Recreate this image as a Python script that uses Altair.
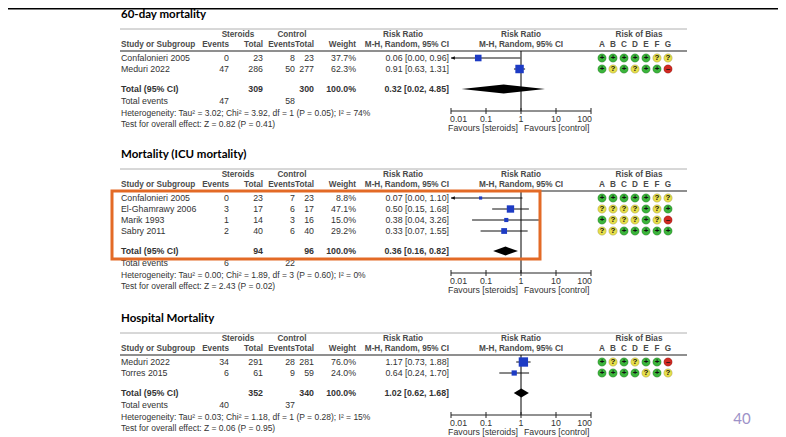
import altair as alt
import pandas as pd

# ---------------- data ----------------
TITLES = ["60-day mortality", "Mortality (ICU mortality)", "Hospital Mortality"]

S1_STUDY = ["Confalonieri 2005", "Meduri 2022"]
S1_EXP_EVENTS = [0, 47]
S1_EXP_TOTAL = [23, 286]
S1_CTL_EVENTS = [8, 50]
S1_CTL_TOTAL = [23, 277]
S1_WEIGHT = [37.7, 62.3]
S1_RR = [0.06, 0.91]
S1_LO = [0.00, 0.63]
S1_HI = [0.96, 1.31]
S1_ROB = ["+++++??", "+?+?++-"]
S1_POOLED = [0.32, 0.02, 4.85]
S1_TOTALS = [309, 300]
S1_EVENTS = [47, 58]
S1_HET = ["3.02", "3.92", "1", "0.05", "74"]
S1_TEST = ["0.82", "0.41"]

S2_STUDY = ["Confalonieri 2005", "El-Ghamrawy 2006", "Marik 1993", "Sabry 2011"]
S2_EXP_EVENTS = [0, 3, 1, 2]
S2_EXP_TOTAL = [23, 17, 14, 40]
S2_CTL_EVENTS = [7, 6, 3, 6]
S2_CTL_TOTAL = [23, 17, 16, 40]
S2_WEIGHT = [8.8, 47.1, 15.0, 29.2]
S2_RR = [0.07, 0.50, 0.38, 0.33]
S2_LO = [0.00, 0.15, 0.04, 0.07]
S2_HI = [1.10, 1.68, 3.26, 1.55]
S2_ROB = ["+++++??", "????+?+", "+???+?-", "??+++++"]
S2_POOLED = [0.36, 0.16, 0.82]
S2_TOTALS = [94, 96]
S2_EVENTS = [6, 22]
S2_HET = ["0.00", "1.89", "3", "0.60", "0"]
S2_TEST = ["2.43", "0.02"]

S3_STUDY = ["Meduri 2022", "Torres 2015"]
S3_EXP_EVENTS = [34, 6]
S3_EXP_TOTAL = [291, 61]
S3_CTL_EVENTS = [28, 9]
S3_CTL_TOTAL = [281, 59]
S3_WEIGHT = [76.0, 24.0]
S3_RR = [1.17, 0.64]
S3_LO = [0.73, 0.24]
S3_HI = [1.88, 1.70]
S3_ROB = ["+?+?++-", "++++?+?"]
S3_POOLED = [1.02, 0.62, 1.68]
S3_TOTALS = [352, 340]
S3_EVENTS = [40, 37]
S3_HET = ["0.03", "1.18", "1", "0.28", "15"]
S3_TEST = ["0.06", "0.95"]

AXIS_TICKS = [0.01, 0.1, 1, 10, 100]
AXIS_LABELS = ["0.01", "0.1", "1", "10", "100"]
ROB_DOMAINS = ["A", "B", "C", "D", "E", "F", "G"]
PAGE_NUMBER = "40"

# ---------------- layout (page pixels) ----------------
SEC_TOP = [29, 169, 333]
COL = dict(study=121, ee=229, et=263, ce=295, ct=314, w=356, rr=449,
           steroids=238, control=292, rrhead=403)
LINE_X = (120, 687)
HIGHLIGHT = dict(x=112, x2=540, sec=1)

XPIX = alt.Scale(domain=[8, 778], range=[0, 770])
YPIX = alt.Scale(domain=[8, 437], range=[0, 429])
XLOG = alt.Scale(type="log", domain=[0.01, 100], range=[443, 583])
XROB = alt.Scale(type="point", domain=ROB_DOMAINS, range=[594, 660], padding=0)

HEAD_C, BODY_C = "#4a4a4a", "#333333"
FS = 8.8
FSH = 8.2
FST = 11.5

sections = [
    dict(study=S1_STUDY, ee=S1_EXP_EVENTS, et=S1_EXP_TOTAL, ce=S1_CTL_EVENTS, ct=S1_CTL_TOTAL,
         w=S1_WEIGHT, rr=S1_RR, lo=S1_LO, hi=S1_HI, rob=S1_ROB, pooled=S1_POOLED,
         totals=S1_TOTALS, events=S1_EVENTS, het=S1_HET, test=S1_TEST),
    dict(study=S2_STUDY, ee=S2_EXP_EVENTS, et=S2_EXP_TOTAL, ce=S2_CTL_EVENTS, ct=S2_CTL_TOTAL,
         w=S2_WEIGHT, rr=S2_RR, lo=S2_LO, hi=S2_HI, rob=S2_ROB, pooled=S2_POOLED,
         totals=S2_TOTALS, events=S2_EVENTS, het=S2_HET, test=S2_TEST),
    dict(study=S3_STUDY, ee=S3_EXP_EVENTS, et=S3_EXP_TOTAL, ce=S3_CTL_EVENTS, ct=S3_CTL_TOTAL,
         w=S3_WEIGHT, rr=S3_RR, lo=S3_LO, hi=S3_HI, rob=S3_ROB, pooled=S3_POOLED,
         totals=S3_TOTALS, events=S3_EVENTS, het=S3_HET, test=S3_TEST),
]

texts, ftexts, rtexts, lines, cis, arrows, squares, diamonds = [], [], [], [], [], [], [], []
nulls, axes, ticks, circles = [], [], [], []
box = []


def T(x, y, s, align, bold=False, c=BODY_C, fs=FS):
    texts.append(dict(x=x, y=y, text=s, align=align, bold=bold, c=c, fs=fs))


def fmt_rr(r, l, h):
    return f"{r:.2f} [{l:.2f}, {h:.2f}]"


for si, sec in enumerate(sections):
    G = SEC_TOP[si]
    h1, h2, dark = G + 6, G + 16, G + 22
    n = len(sec["study"])
    rows = [G + 29 + 11 * i for i in range(n)]
    tot = rows[-1] + 20
    axis_y = tot + 22

    texts.append(dict(x=COL["study"], y=G - 14, text=TITLES[si], align="left", bold=True,
                      c="#000000", fs=FST, title=True))
    T(COL["steroids"], h1, "Steroids", "center", True, HEAD_C, FSH)
    T(COL["control"], h1, "Control", "center", True, HEAD_C, FSH)
    T(COL["rrhead"], h1, "Risk Ratio", "center", True, HEAD_C, FSH)
    T(COL["study"], h2, "Study or Subgroup", "left", True, HEAD_C, FSH)
    T(COL["ee"], h2, "Events", "right", True, HEAD_C, FSH)
    T(COL["et"], h2, "Total", "right", True, HEAD_C, FSH)
    T(COL["ce"], h2, "Events", "right", True, HEAD_C, FSH)
    T(COL["ct"], h2, "Total", "right", True, HEAD_C, FSH)
    T(COL["w"], h2, "Weight", "right", True, HEAD_C, FSH)
    T(COL["rr"], h2, "M-H, Random, 95% CI", "right", True, HEAD_C, FSH)

    ftexts.append(dict(rr=1, y=h1, text="Risk Ratio", align="center", bold=True, c=HEAD_C, fs=FSH))
    ftexts.append(dict(rr=1, y=h2, text="M-H, Random, 95% CI", align="center", bold=True, c=HEAD_C, fs=FSH))
    rtexts.append(dict(k="D", y=h1, text="Risk of Bias", bold=True, c=HEAD_C, fs=FSH, dx=4))
    for L in ROB_DOMAINS:
        rtexts.append(dict(k=L, y=h2, text=L, bold=True, c=HEAD_C, fs=FSH, dx=0))

    lines.append(dict(x=LINE_X[0], x2=LINE_X[1], y=G, c="#b0b0b0", sw=1))
    lines.append(dict(x=LINE_X[0], x2=LINE_X[1], y=dark, c="#6a6a6a", sw=1.3))

    for i in range(n):
        y = rows[i]
        T(COL["study"], y, sec["study"][i], "left")
        T(COL["ee"], y, str(sec["ee"][i]), "right")
        T(COL["et"], y, str(sec["et"][i]), "right")
        T(COL["ce"], y, str(sec["ce"][i]), "right")
        T(COL["ct"], y, str(sec["ct"][i]), "right")
        T(COL["w"], y, f"{sec['w'][i]:.1f}%", "right")
        T(COL["rr"], y, fmt_rr(sec["rr"][i], sec["lo"][i], sec["hi"][i]), "right")
        lo = sec["lo"][i]
        lo_draw = max(lo, AXIS_TICKS[0])
        cis.append(dict(lo=lo_draw, hi=sec["hi"][i], y=y))
        if lo < AXIS_TICKS[0]:
            arrows.append(dict(rr=AXIS_TICKS[0], y=y))
        squares.append(dict(rr=sec["rr"][i], y=y, w=sec["w"][i]))
        for j, mark in enumerate(sec["rob"][i]):
            circles.append(dict(k=ROB_DOMAINS[j], y=y, j=mark,
                                sym={"+": "+", "?": "?", "-": "–"}[mark]))

    T(COL["study"], tot, "Total (95% CI)", "left", True)
    T(COL["et"], tot, str(sec["totals"][0]), "right", True)
    T(COL["ct"], tot, str(sec["totals"][1]), "right", True)
    T(COL["w"], tot, "100.0%", "right", True)
    T(COL["rr"], tot, fmt_rr(*sec["pooled"]), "right", True)
    T(COL["study"], tot + 12, "Total events", "left")
    T(COL["ee"], tot + 12, str(sec["events"][0]), "right")
    T(COL["ce"], tot + 12, str(sec["events"][1]), "right")
    h = sec["het"]
    T(COL["study"], tot + 24,
      f"Heterogeneity: Tau² = {h[0]}; Chi² = {h[1]}, df = {h[2]} (P = {h[3]}); I² = {h[4]}%", "left",
      fs=8.5)
    T(COL["study"], tot + 35,
      f"Test for overall effect: Z = {sec['test'][0]} (P = {sec['test'][1]})", "left", fs=8.5)

    r, l, hh = sec["pooled"]
    diamonds += [dict(sec=si, rr=l, yt=tot, yb=tot), dict(sec=si, rr=r, yt=tot - 4.5, yb=tot + 4.5),
                 dict(sec=si, rr=hh, yt=tot, yb=tot)]
    nulls.append(dict(rr=1, y=dark, y2=axis_y))
    axes.append(dict(lo=AXIS_TICKS[0], hi=AXIS_TICKS[-1], y=axis_y))
    for t, lab in zip(AXIS_TICKS, AXIS_LABELS):
        ticks.append(dict(rr=t, y=axis_y - 3, y2=axis_y + 3))
        al = "left" if t == AXIS_TICKS[0] else ("right" if t == AXIS_TICKS[-1] else "center")
        ftexts.append(dict(rr=t, y=axis_y + 8, text=lab, align=al, bold=False, c=BODY_C, fs=FS))
    ftexts.append(dict(rr=1, y=axis_y + 17, text="Favours [steroids]", align="right", bold=False,
                       c=BODY_C, fs=FS))
    ftexts.append(dict(rr=1, y=axis_y + 17, text="Favours [control]", align="left", bold=False,
                       c=BODY_C, fs=FS))

    if si == HIGHLIGHT["sec"]:
        box.append(dict(x=HIGHLIGHT["x"], x2=HIGHLIGHT["x2"], y=dark, y2=tot + 8))

texts.append(dict(x=742, y=419, text=PAGE_NUMBER, align="center", bold=False, c="#9d92c8",
                  fs=15, title=True))

tdf = pd.DataFrame(texts)
tdf["title"] = tdf["title"].fillna(False).astype(bool)
fdf = pd.DataFrame(ftexts)
rdf = pd.DataFrame(rtexts)

layers = []

# slide top border
layers.append(alt.Chart(pd.DataFrame([dict(x=8, x2=778, y=8.8)])).mark_rule(
    color="black", strokeWidth=1.6).encode(
    x=alt.X("x:Q", scale=XPIX, axis=None), x2="x2:Q", y=alt.Y("y:Q", scale=YPIX, axis=None)))

ldf = pd.DataFrame(lines)
layers.append(alt.Chart(ldf).mark_rule().encode(
    x=alt.X("x:Q", scale=XPIX, axis=None), x2="x2:Q",
    y=alt.Y("y:Q", scale=YPIX, axis=None),
    color=alt.Color("c:N", scale=None), strokeWidth=alt.StrokeWidth("sw:Q", scale=None)))

for al in ["left", "center", "right"]:
    for b in [False, True]:
        for ttl in [False, True]:
            sub = tdf[(tdf["align"] == al) & (tdf["bold"] == b) & (tdf["title"] == ttl)]
            if len(sub) == 0:
                continue
            font = "Lato" if ttl else "Liberation Sans"
            layers.append(alt.Chart(sub.drop(columns=["title"])).mark_text(
                align=al, baseline="middle", font=font,
                fontWeight="bold" if b else "normal").encode(
                x=alt.X("x:Q", scale=XPIX, axis=None), y=alt.Y("y:Q", scale=YPIX, axis=None),
                text="text:N", color=alt.Color("c:N", scale=None),
                size=alt.Size("fs:Q", scale=None)))

# forest plot
layers.append(alt.Chart(pd.DataFrame(nulls)).mark_rule(color="black", strokeWidth=1).encode(
    x=alt.X("rr:Q", scale=XLOG, axis=None), y=alt.Y("y:Q", scale=YPIX, axis=None), y2="y2:Q"))
layers.append(alt.Chart(pd.DataFrame(axes)).mark_rule(color="#222", strokeWidth=1).encode(
    x=alt.X("lo:Q", scale=XLOG, axis=None), x2="hi:Q", y=alt.Y("y:Q", scale=YPIX, axis=None)))
layers.append(alt.Chart(pd.DataFrame(ticks)).mark_rule(color="#222", strokeWidth=1).encode(
    x=alt.X("rr:Q", scale=XLOG, axis=None), y=alt.Y("y:Q", scale=YPIX, axis=None), y2="y2:Q"))
layers.append(alt.Chart(pd.DataFrame(cis)).mark_rule(color="#111", strokeWidth=1).encode(
    x=alt.X("lo:Q", scale=XLOG, axis=None), x2="hi:Q", y=alt.Y("y:Q", scale=YPIX, axis=None)))
layers.append(alt.Chart(pd.DataFrame(arrows)).mark_point(
    shape="M0,0L1,-0.45L1,0.45Z", filled=True, size=60, color="#111", opacity=1).encode(
    x=alt.X("rr:Q", scale=XLOG, axis=None), y=alt.Y("y:Q", scale=YPIX, axis=None)))
layers.append(alt.Chart(pd.DataFrame(squares)).mark_square(color="#1d3bc4", opacity=1).encode(
    x=alt.X("rr:Q", scale=XLOG, axis=None), y=alt.Y("y:Q", scale=YPIX, axis=None),
    size=alt.Size("w:Q", scale=alt.Scale(domain=[0, 100], range=[0, 115]), legend=None)))
layers.append(alt.Chart(pd.DataFrame(diamonds)).mark_area(color="black", orient="vertical").encode(
    x=alt.X("rr:Q", scale=XLOG, axis=None), y=alt.Y("yt:Q", scale=YPIX, axis=None), y2="yb:Q",
    detail="sec:N"))
for al in ["left", "center", "right"]:
    for b in [False, True]:
        sub = fdf[(fdf["align"] == al) & (fdf["bold"] == b)]
        if len(sub) == 0:
            continue
        is_fav = sub["text"].str.startswith("Favours")
        if not b and al == "left":
            parts = [(sub[is_fav], 3), (sub[~is_fav], -1)]
        elif not b and al == "right":
            parts = [(sub[is_fav], -3), (sub[~is_fav], 1)]
        else:
            parts = [(sub, 0)]
        for part, dxx in parts:
            if len(part) == 0:
                continue
            layers.append(alt.Chart(part).mark_text(
                align=al, baseline="middle", font="Liberation Sans", dx=dxx,
                fontWeight="bold" if b else "normal").encode(
                x=alt.X("rr:Q", scale=XLOG, axis=None), y=alt.Y("y:Q", scale=YPIX, axis=None),
                text="text:N", color=alt.Color("c:N", scale=None),
                size=alt.Size("fs:Q", scale=None)))

# risk of bias
cdf = pd.DataFrame(circles)
layers.append(alt.Chart(cdf).mark_circle(size=72, opacity=1, stroke="#000", strokeOpacity=0.18,
                                          strokeWidth=0.8).encode(
    x=alt.X("k:N", scale=XROB, axis=None), y=alt.Y("y:Q", scale=YPIX, axis=None),
    color=alt.Color("j:N", scale=alt.Scale(domain=["+", "?", "-"],
                                           range=["#3cb43c", "#e6de4c", "#d02a22"]), legend=None)))
layers.append(alt.Chart(cdf).mark_text(font="Liberation Sans", fontWeight="bold", fontSize=8,
                                       baseline="middle", color="#111").encode(
    x=alt.X("k:N", scale=XROB, axis=None), y=alt.Y("y:Q", scale=YPIX, axis=None), text="sym:N"))
for dxv in sorted(rdf["dx"].unique()):
    sub = rdf[rdf["dx"] == dxv]
    layers.append(alt.Chart(sub).mark_text(font="Liberation Sans", fontWeight="bold",
                                           baseline="middle", align="center", dx=float(dxv)).encode(
        x=alt.X("k:N", scale=XROB, axis=None), y=alt.Y("y:Q", scale=YPIX, axis=None),
        text="text:N", color=alt.Color("c:N", scale=None), size=alt.Size("fs:Q", scale=None)))

# highlight box
layers.append(alt.Chart(pd.DataFrame(box)).mark_rect(filled=False, stroke="#e36a26",
                                                      strokeWidth=3).encode(
    x=alt.X("x:Q", scale=XPIX, axis=None), x2="x2:Q",
    y=alt.Y("y:Q", scale=YPIX, axis=None), y2="y2:Q"))

chart = alt.layer(*layers).resolve_scale(x="independent").properties(
    width=770, height=429, autosize=alt.AutoSizeParams(type="none"), padding=0,
    background="white").configure_view(stroke=None)

chart.save("out.html", embed_options={"renderer": "svg", "actions": False})
